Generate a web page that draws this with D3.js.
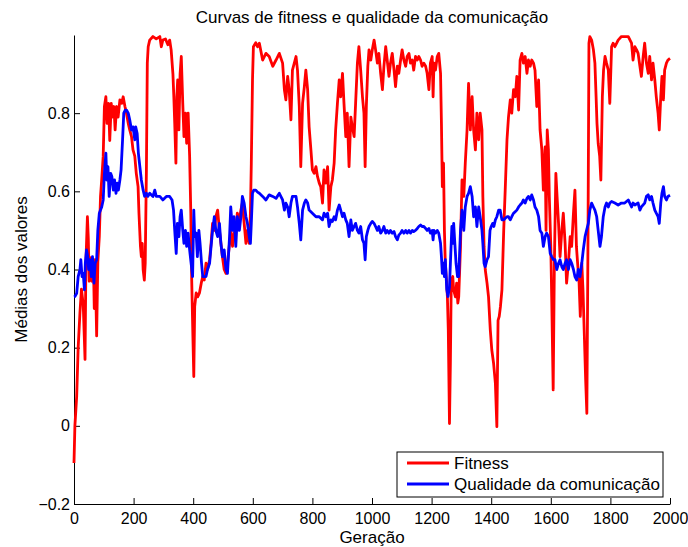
<!DOCTYPE html>
<html>
<head>
<meta charset="utf-8">
<script src="https://cdn.jsdelivr.net/npm/d3@7"></script>
<style>
  body { margin: 0; background: #fff; }
  svg text { font-family: "Liberation Sans", Arial, sans-serif; fill: #000; }
</style>
</head>
<body>
<div id="chart"></div>
<script>
// values: [geração, valor]
var fitness = [
  [0,-0.095],[3,0.0],[9,0.075],[14,0.2],[20,0.29],[25,0.35],[31,0.31],[37,0.17],[40,0.42],[45,0.535],[48,0.48],[51,0.37],[56,0.43],[60,0.37],[65,0.425],[68,0.30],[71,0.425],[76,0.23],[80,0.42],[85,0.485],[89,0.587],[93,0.63],[98,0.69],[102,0.817],[107,0.842],[111,0.774],[116,0.825],[120,0.73],[125,0.825],[129,0.79],[134,0.817],[138,0.757],[143,0.817],[148,0.79],[154,0.834],[160,0.825],[165,0.842],[171,0.817],[176,0.80],[182,0.774],[187,0.757],[193,0.74],[198,0.706],[204,0.69],[209,0.646],[215,0.612],[218,0.544],[223,0.459],[226,0.433],[229,0.467],[232,0.40],[236,0.373],[239,0.416],[243,0.655],[246,0.928],[249,0.97],[254,0.987],[265,0.996],[276,0.99],[288,0.996],[293,0.97],[298,0.987],[307,0.99],[315,0.975],[321,0.987],[326,0.962],[332,0.90],[335,0.842],[338,0.774],[342,0.672],[345,0.842],[348,0.885],[352,0.757],[356,0.90],[360,0.945],[365,0.825],[369,0.74],[374,0.80],[378,0.723],[383,0.80],[388,0.69],[392,0.544],[395,0.373],[399,0.228],[402,0.126],[405,0.305],[410,0.34],[415,0.33],[421,0.34],[427,0.365],[432,0.382],[437,0.373],[443,0.416],[448,0.40],[455,0.425],[460,0.467],[465,0.518],[471,0.50],[476,0.535],[482,0.552],[488,0.50],[493,0.467],[498,0.433],[504,0.40],[510,0.39],[515,0.416],[522,0.467],[526,0.50],[532,0.459],[537,0.493],[543,0.50],[548,0.544],[555,0.527],[560,0.552],[565,0.57],[571,0.518],[577,0.467],[582,0.50],[588,0.467],[592,0.544],[595,0.672],[599,0.885],[602,0.97],[610,0.98],[616,0.97],
  [622,0.979],[633,0.936],[644,0.953],[655,0.945],[667,0.92],[678,0.936],[689,0.953],[700,0.928],[706,0.86],[711,0.834],[717,0.894],[722,0.86],[728,0.783],[733,0.91],[745,0.945],[750,0.91],[756,0.817],[761,0.663],[767,0.825],[773,0.868],[778,0.91],[784,0.86],[789,0.765],[795,0.706],[800,0.655],[806,0.646],[812,0.663],[817,0.638],[823,0.621],[828,0.612],[834,0.57],[839,0.655],[845,0.621],[851,0.663],[856,0.552],[862,0.612],[867,0.629],[873,0.672],[878,0.757],[884,0.825],[890,0.885],[895,0.842],[901,0.902],[906,0.825],[912,0.74],[917,0.80],[923,0.663],[929,0.79],[934,0.765],[940,0.74],[945,0.825],[951,0.928],[956,0.97],[962,0.91],[968,0.842],[973,0.80],[977,0.663],[981,0.817],[986,0.92],[990,0.962],[996,0.936],[1001,0.962],[1007,0.987],[1012,0.962],[1018,0.928],[1023,0.953],[1029,0.902],[1035,0.86],[1040,0.92],[1046,0.97],[1051,0.936],[1057,0.894],[1062,0.928],[1068,0.953],[1074,0.91],[1079,0.868],[1085,0.92],[1090,0.902],[1096,0.936],[1101,0.962],[1107,0.936],[1113,0.92],[1118,0.945],[1124,0.953],[1129,0.928],[1135,0.936],[1140,0.91],[1146,0.945],[1152,0.936],[1157,0.945],[1163,0.936],[1168,0.92],[1174,0.928],[1180,0.92],[1185,0.902],[1191,0.86],[1196,0.928],[1202,0.945],[1205,0.842],[1208,0.928],[1213,0.91],[1219,0.945],[1224,0.953],[1230,0.902],[1233,0.774],[1236,0.612],[1240,0.672],[1243,0.50],[1246,0.416],[1250,0.373],[1253,0.33],[1256,0.245],[1260,0.006],[1263,0.16],[1266,0.373],[1271,0.382],[1274,0.348],[1280,0.33],[1284,0.365],[1288,0.314],
  [1291,0.33],[1297,0.459],[1302,0.629],[1308,0.587],[1313,0.672],[1319,0.757],[1324,0.876],[1330,0.757],[1336,0.842],[1341,0.757],[1347,0.706],[1352,0.80],[1358,0.732],[1363,0.80],[1369,0.757],[1372,0.587],[1376,0.459],[1380,0.40],[1386,0.365],[1391,0.33],[1397,0.245],[1402,0.194],[1408,0.16],[1414,0.109],[1419,-0.002],[1423,0.27],[1427,0.28],[1431,0.305],[1436,0.348],[1442,0.50],[1447,0.603],[1453,0.732],[1458,0.79],[1464,0.834],[1469,0.80],[1475,0.86],[1481,0.842],[1486,0.894],[1492,0.808],[1497,0.936],[1503,0.953],[1508,0.928],[1514,0.945],[1520,0.902],[1525,0.936],[1531,0.92],[1536,0.936],[1542,0.928],[1547,0.91],[1553,0.817],[1559,0.885],[1564,0.757],[1570,0.706],[1575,0.603],[1581,0.714],[1584,0.50],[1588,0.757],[1592,0.706],[1595,0.587],[1600,0.459],[1603,0.33],[1608,0.092],[1612,0.416],[1617,0.646],[1621,0.587],[1626,0.518],[1631,0.433],[1637,0.50],[1642,0.544],[1648,0.467],[1653,0.365],[1659,0.416],[1665,0.484],[1670,0.459],[1676,0.544],[1681,0.603],[1686,0.459],[1690,0.416],[1695,0.365],[1699,0.28],[1704,0.416],[1708,0.348],[1712,0.245],[1717,0.117],[1721,0.032],[1725,0.50],[1728,0.979],[1731,0.996],[1737,0.987],[1743,0.962],[1748,0.928],[1752,0.842],[1755,0.774],[1759,0.723],[1764,0.69],[1768,0.629],[1773,0.842],[1777,0.91],[1782,0.945],[1787,0.928],[1793,0.91],[1798,0.825],[1804,0.97],[1809,0.979],[1815,0.97],[1821,0.979],[1826,0.987],[1837,0.996],[1848,0.996],[1860,0.996],[1871,0.979],[1876,0.936],[1882,0.97],[1888,0.962],[1893,0.953],[1899,0.92],[1904,0.894],[1910,0.945],[1915,0.979],[1921,0.928],[1927,0.902],[1932,0.945],[1938,0.885],[1943,0.928],[1949,0.885],[1954,0.842],[1960,0.80],[1964,0.757],[1969,0.842],[1973,0.894],[1978,0.834],[1982,0.91],[1988,0.928],[1993,0.936],[2000,0.94]
];

var qualidade = [
  [0,0.33],[3,0.331],[9,0.339],[14,0.382],[20,0.40],[23,0.425],[27,0.382],[31,0.39],[35,0.348],[38,0.416],[42,0.45],[46,0.433],[49,0.40],[53,0.425],[58,0.382],[62,0.433],[67,0.365],[71,0.416],[76,0.425],[80,0.50],[85,0.544],[89,0.552],[93,0.56],[98,0.578],[102,0.646],[107,0.698],[110,0.629],[114,0.663],[118,0.587],[123,0.646],[127,0.638],[132,0.603],[136,0.629],[141,0.595],[145,0.621],[149,0.603],[154,0.629],[158,0.655],[163,0.732],[167,0.80],[172,0.808],[176,0.808],[182,0.80],[187,0.783],[193,0.757],[198,0.765],[204,0.732],[207,0.765],[212,0.748],[216,0.698],[221,0.663],[226,0.629],[232,0.603],[237,0.587],[243,0.595],[248,0.587],[254,0.595],[265,0.587],[271,0.603],[276,0.587],[288,0.587],[298,0.578],[310,0.587],[321,0.587],[329,0.578],[334,0.552],[338,0.50],[343,0.441],[347,0.518],[352,0.484],[356,0.535],[360,0.552],[365,0.50],[369,0.467],[374,0.50],[378,0.459],[383,0.493],[388,0.45],[393,0.416],[398,0.382],[402,0.552],[405,0.484],[410,0.493],[414,0.433],[419,0.50],[423,0.467],[428,0.416],[432,0.382],[437,0.382],[443,0.382],[448,0.40],[455,0.416],[460,0.459],[465,0.50],[471,0.535],[476,0.50],[482,0.484],[488,0.518],[493,0.467],[498,0.433],[504,0.45],[510,0.40],[515,0.39],[522,0.484],[526,0.56],[532,0.50],[537,0.535],[543,0.459],[548,0.535],[555,0.50],[560,0.535],[565,0.587],[571,0.57],[577,0.535],[582,0.518],[588,0.484],[592,0.467],[595,0.518],[599,0.595],[603,0.603],[610,0.603],[616,0.598],
  [622,0.595],[633,0.587],[644,0.578],[655,0.591],[667,0.587],[678,0.582],[689,0.595],[700,0.578],[706,0.552],[711,0.57],[717,0.56],[722,0.535],[728,0.57],[733,0.587],[745,0.587],[750,0.56],[756,0.518],[761,0.476],[767,0.552],[773,0.57],[778,0.578],[784,0.57],[789,0.552],[800,0.544],[812,0.535],[823,0.535],[834,0.527],[839,0.544],[845,0.535],[851,0.544],[856,0.51],[862,0.527],[867,0.523],[873,0.535],[878,0.527],[884,0.552],[890,0.565],[895,0.552],[901,0.535],[906,0.544],[912,0.527],[917,0.518],[923,0.484],[929,0.527],[934,0.50],[940,0.51],[945,0.518],[951,0.50],[956,0.493],[962,0.51],[968,0.476],[973,0.467],[977,0.425],[981,0.484],[986,0.50],[990,0.51],[996,0.518],[1001,0.523],[1007,0.518],[1012,0.51],[1018,0.50],[1023,0.51],[1029,0.493],[1035,0.50],[1040,0.51],[1046,0.493],[1051,0.50],[1057,0.493],[1062,0.50],[1068,0.493],[1074,0.497],[1079,0.484],[1085,0.476],[1090,0.488],[1096,0.493],[1101,0.50],[1107,0.493],[1113,0.50],[1118,0.493],[1124,0.50],[1129,0.493],[1135,0.50],[1140,0.497],[1146,0.50],[1152,0.505],[1157,0.51],[1163,0.514],[1168,0.51],[1174,0.51],[1180,0.505],[1185,0.50],[1191,0.505],[1196,0.493],[1202,0.50],[1205,0.476],[1208,0.50],[1213,0.493],[1219,0.50],[1224,0.493],[1230,0.467],[1233,0.433],[1236,0.39],[1240,0.416],[1243,0.382],[1246,0.425],[1251,0.348],[1255,0.331],[1260,0.356],[1264,0.433],[1268,0.51],[1271,0.467],[1274,0.518],[1278,0.467],[1282,0.416],[1287,0.382],
  [1291,0.382],[1297,0.50],[1302,0.552],[1308,0.50],[1313,0.56],[1319,0.587],[1324,0.595],[1330,0.612],[1336,0.587],[1341,0.535],[1347,0.56],[1352,0.51],[1358,0.56],[1363,0.535],[1369,0.50],[1372,0.467],[1376,0.416],[1380,0.407],[1386,0.425],[1391,0.433],[1396,0.50],[1400,0.51],[1405,0.518],[1409,0.51],[1414,0.527],[1419,0.535],[1425,0.552],[1430,0.552],[1436,0.527],[1442,0.527],[1447,0.531],[1453,0.535],[1458,0.535],[1464,0.527],[1469,0.535],[1475,0.544],[1481,0.548],[1486,0.552],[1492,0.56],[1497,0.565],[1503,0.57],[1508,0.578],[1514,0.57],[1520,0.582],[1525,0.587],[1531,0.578],[1536,0.591],[1542,0.578],[1547,0.56],[1553,0.552],[1559,0.535],[1564,0.50],[1570,0.493],[1575,0.459],[1581,0.484],[1586,0.493],[1592,0.484],[1598,0.441],[1603,0.433],[1609,0.425],[1614,0.425],[1620,0.40],[1626,0.416],[1631,0.425],[1637,0.407],[1642,0.40],[1648,0.416],[1653,0.425],[1659,0.40],[1665,0.425],[1670,0.416],[1676,0.40],[1681,0.382],[1687,0.373],[1692,0.40],[1698,0.382],[1704,0.416],[1709,0.45],[1715,0.484],[1720,0.50],[1726,0.518],[1731,0.552],[1737,0.57],[1743,0.56],[1748,0.552],[1754,0.535],[1759,0.50],[1765,0.459],[1770,0.484],[1776,0.535],[1782,0.56],[1787,0.57],[1793,0.56],[1798,0.57],[1804,0.574],[1815,0.57],[1826,0.565],[1837,0.57],[1848,0.57],[1860,0.578],[1871,0.56],[1876,0.57],[1882,0.565],[1893,0.57],[1899,0.552],[1904,0.56],[1915,0.57],[1921,0.587],[1927,0.591],[1932,0.578],[1938,0.587],[1943,0.57],[1949,0.552],[1954,0.544],[1960,0.535],[1964,0.518],[1969,0.57],[1973,0.595],[1978,0.612],[1982,0.587],[1988,0.578],[1993,0.587],[2000,0.59]
];

var xTicks = [0, 200, 400, 600, 800, 1000, 1200, 1400, 1600, 1800, 2000];
var yTicks = [-0.2, 0, 0.2, 0.4, 0.6, 0.8];
var series = [
  { name: 'Fitness', color: '#ff0000', values: fitness },
  { name: 'Qualidade da comunicação', color: '#0000ff', values: qualidade }
];

var width = 688, height = 547;
var margin = { left: 74, right: 18, top: 35, bottom: 43 };

var svg = d3.select('#chart').append('svg')
    .attr('width', width)
    .attr('height', height);

var x = d3.scaleLinear().domain([0, 2000]).range([margin.left, width - margin.right]);
var y = d3.scaleLinear().domain([-0.2, 1]).range([height - margin.bottom, margin.top]);

// eixos estilo matlab, ticks para dentro
var fmt = function(d) { return d < 0 ? '\u2212' + Math.abs(d) : String(d); };

var xAxis = svg.append('g')
    .attr('transform', 'translate(0,' + y(-0.2) + ')')
    .call(d3.axisBottom(x).tickValues(xTicks).tickSize(-6).tickSizeOuter(0).tickPadding(9).tickFormat(fmt));

var yAxis = svg.append('g')
    .attr('transform', 'translate(' + x(0) + ',0)')
    .call(d3.axisLeft(y).tickValues(yTicks).tickSize(-6).tickSizeOuter(0).tickPadding(4).tickFormat(fmt));

[xAxis, yAxis].forEach(function(a) {
  a.select('.domain').attr('stroke', '#000').attr('stroke-width', 1);
  a.selectAll('.tick line').attr('stroke', '#000');
  a.selectAll('.tick text').style('font-size', '16px').attr('fill', '#000');
});

var line = d3.line()
    .x(function(d) { return x(d[0]); })
    .y(function(d) { return y(d[1]); });

svg.selectAll('path.serie')
    .data(series)
  .enter().append('path')
    .attr('class', 'serie')
    .attr('d', function(s) { return line(s.values); })
    .attr('fill', 'none')
    .attr('stroke', function(s) { return s.color; })
    .attr('stroke-width', 2.8)
    .attr('stroke-linejoin', 'round');

svg.append('text')
    .attr('x', (x(0) + x(2000)) / 2)
    .attr('y', 23)
    .attr('text-anchor', 'middle')
    .style('font-size', '17px')
    .text('Curvas de fitness e qualidade da comunicação');

svg.append('text')
    .attr('x', (x(0) + x(2000)) / 2)
    .attr('y', 543)
    .attr('text-anchor', 'middle')
    .style('font-size', '17px')
    .text('Geração');

svg.append('text')
    .attr('transform', 'translate(27,' + (y(-0.2) + y(1)) / 2 + ') rotate(-90)')
    .attr('text-anchor', 'middle')
    .style('font-size', '17px')
    .text('Médias dos valores');

// legenda
var legend = svg.append('g').attr('transform', 'translate(397,452)');
legend.append('rect')
    .attr('width', 266)
    .attr('height', 45)
    .attr('fill', '#fff')
    .attr('stroke', '#000')
    .attr('stroke-width', 1);

var item = legend.selectAll('g.item')
    .data(series)
  .enter().append('g')
    .attr('class', 'item')
    .attr('transform', function(d, i) { return 'translate(0,' + (11 + i * 21) + ')'; });

item.append('line')
    .attr('x1', 10).attr('x2', 52)
    .attr('stroke', function(d) { return d.color; })
    .attr('stroke-width', 2.8);

item.append('text')
    .attr('x', 57)
    .attr('dy', '0.35em')
    .style('font-size', '17px')
    .text(function(d) { return d.name; });
</script>
</body>
</html>
